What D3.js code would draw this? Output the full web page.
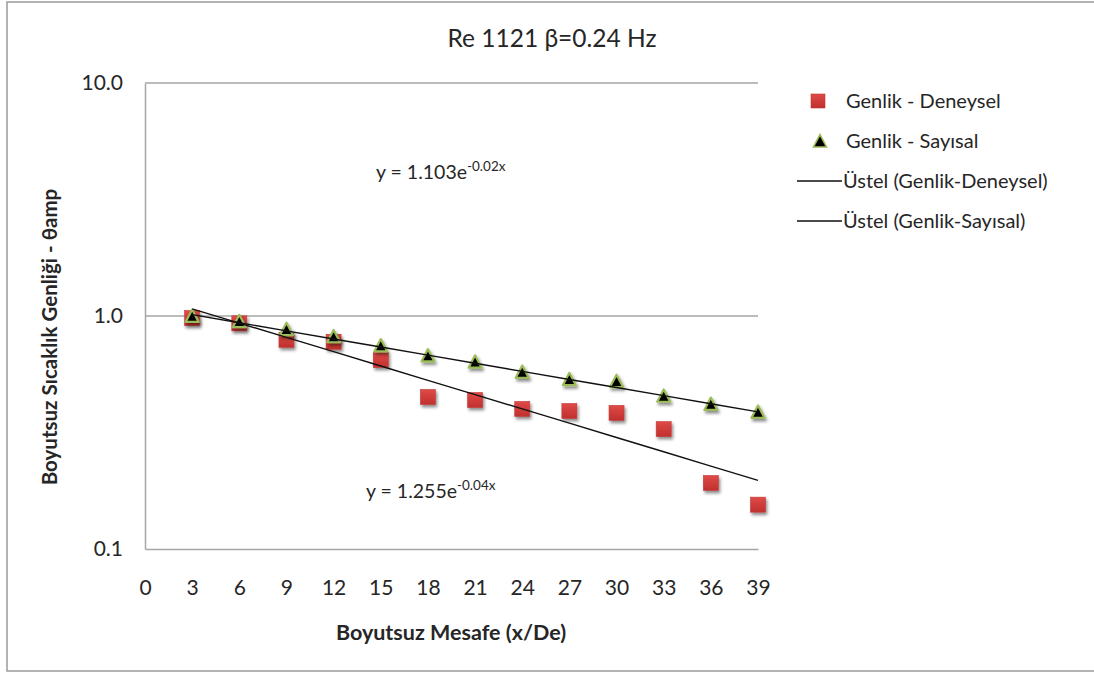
<!DOCTYPE html>
<html><head><meta charset="utf-8">
<script src="https://cdn.jsdelivr.net/npm/d3@7"></script>
<style>
html,body{margin:0;padding:0;background:#fff;}
svg{display:block;font-family:Lato,"Open Sans",sans-serif;}
</style></head>
<body>
<script>
// ---- data ----
const xValues = [3,6,9,12,15,18,21,24,27,30,33,36,39];
const deneysel = [0.98,0.93,0.79,0.775,0.647,0.449,0.436,0.399,0.391,0.384,0.327,0.192,0.155];
const sayisal  = [0.99,0.94,0.87,0.81,0.74,0.67,0.63,0.57,0.53,0.52,0.45,0.415,0.384];
const xTicks = [0,3,6,9,12,15,18,21,24,27,30,33,36,39];
const yTicks = [0.1,1,10];
const seriesNames = ["Genlik - Deneysel","Genlik - Sayısal","Üstel (Genlik-Deneysel)","Üstel (Genlik-Sayısal)"];
const eqSayisal = ["y = 1.103e","-0.02x"];
const eqDeneysel = ["y = 1.255e","-0.04x"];
const title = "Re 1121 β=0.24 Hz";
const xTitle = "Boyutsuz Mesafe (x/De)";
const yTitle = "Boyutsuz Sıcaklık Genliği - θamp";

const W=1094,H=675;
const svg=d3.select("body").append("svg").attr("width",W).attr("height",H);
const defs=svg.append("defs");
const f=defs.append("filter").attr("id","sh").attr("x","-50%").attr("y","-50%").attr("width","200%").attr("height","200%");
f.append("feDropShadow").attr("dx",1.5).attr("dy",2.5).attr("stdDeviation",1.6).attr("flood-color","#000").attr("flood-opacity",0.45);
const g=defs.append("linearGradient").attr("id","red").attr("x1",0).attr("y1",0).attr("x2",0).attr("y2",1);
g.append("stop").attr("offset","0%").attr("stop-color","#df4a47");
g.append("stop").attr("offset","100%").attr("stop-color","#c0302e");

// border
svg.append("rect").attr("x",7).attr("y",2).attr("width",W).attr("height",669)
  .attr("fill","#fff").attr("stroke","#9a9a9a").attr("stroke-width",1.5);

const x=d3.scaleLinear().domain([0,39]).range([145,758]);
const y=d3.scaleLog().domain([0.1,10]).range([549,83]);
const txt="#262626", grid="#a6a6a6";

// gridlines
svg.append("g").selectAll("line").data(yTicks.filter(v=>v>0.1)).join("line")
  .attr("x1",x(0)).attr("x2",x(39)).attr("y1",d=>y(d)).attr("y2",d=>y(d))
  .attr("stroke",grid).attr("stroke-width",1.5);

// axes
const ax=svg.append("g").attr("transform",`translate(${x(0)},0)`)
  .call(d3.axisLeft(y).tickValues(yTicks).tickFormat(d3.format(".1f")).tickSize(0).tickPadding(22));
ax.select(".domain").attr("stroke",grid).attr("stroke-width",1.5);
ax.selectAll("text").attr("font-size",21).attr("fill",txt).attr("font-family","Lato");

const bx=svg.append("g").attr("transform",`translate(0,${y(0.1)})`)
  .call(d3.axisBottom(x).tickValues(xTicks).tickFormat(d3.format("d")).tickSize(0).tickPadding(31));
bx.select(".domain").attr("stroke",grid).attr("stroke-width",1.5);
bx.selectAll("text").attr("font-size",21).attr("fill",txt).attr("font-family","Lato");

// exponential fits (least squares on ln y)
function expFit(xs,ys){
  const ly=ys.map(Math.log);
  const mx=d3.mean(xs), my=d3.mean(ly);
  let sxy=0,sxx=0; xs.forEach((v,i)=>{sxy+=(v-mx)*(ly[i]-my); sxx+=(v-mx)*(v-mx);});
  const b=sxy/sxx, a=Math.exp(my-b*mx);
  return v=>a*Math.exp(b*v);
}
const fD=expFit(xValues,deneysel), fS=expFit(xValues,sayisal);
const line=fn=>d3.line().x(d=>x(d)).y(d=>y(fn(d)));

// markers: squares
const sq=15;
svg.append("g").selectAll("rect").data(xValues.map((v,i)=>[v,deneysel[i]])).join("rect")
  .attr("x",d=>x(d[0])-sq/2).attr("y",d=>y(d[1])-sq/2).attr("width",sq).attr("height",sq)
  .attr("fill","url(#red)").attr("stroke","#c23a37").attr("stroke-width",0.6).attr("filter","url(#sh)");

// triangles
const tri=(cx,cy,s)=>{const h=s*0.95;return `M${cx},${cy-h*0.6}L${cx+s/2},${cy+h*0.4}L${cx-s/2},${cy+h*0.4}Z`;};
svg.append("g").selectAll("path").data(xValues.map((v,i)=>[v,sayisal[i]])).join("path")
  .attr("d",d=>tri(x(d[0]),y(d[1]),13))
  .attr("fill","#000").attr("stroke","#9bbb59").attr("stroke-width",2.2).attr("stroke-linejoin","round")
  .attr("filter","url(#sh)");

// trendlines
svg.append("path").attr("d",line(fD)(xValues)).attr("fill","none").attr("stroke","#111").attr("stroke-width",1.4);
svg.append("path").attr("d",line(fS)(xValues)).attr("fill","none").attr("stroke","#111").attr("stroke-width",1.4);

// equations
function eq(pos,parts){
  const t=svg.append("text").attr("x",pos[0]).attr("y",pos[1]).attr("fill",txt).attr("font-size",19.5).attr("font-family","Lato");
  t.append("tspan").text(parts[0]);
  t.append("tspan").attr("dy",-8).attr("font-size",13.5).text(parts[1]);
}
eq([376,179],eqSayisal);
eq([366,498],eqDeneysel);

// title
svg.append("text").attr("x",552).attr("y",47).attr("text-anchor","middle").attr("font-size",24.5)
  .attr("fill",txt).text(title);
// axis titles
svg.append("text").attr("x",451).attr("y",640).attr("text-anchor","middle").attr("font-size",21.5)
  .attr("font-weight","bold").attr("fill",txt).text(xTitle);
svg.append("text").attr("transform","translate(57,337) rotate(-90)").attr("text-anchor","middle").attr("font-size",20.5)
  .attr("font-weight","bold").attr("fill",txt).text(yTitle);

// legend
const ly=[101,141,181,221];
const lg=svg.append("g");
lg.append("rect").attr("x",818-7).attr("y",ly[0]-7).attr("width",14).attr("height",14).attr("fill","url(#red)").attr("stroke","#c23a37").attr("stroke-width",0.6);
lg.append("path").attr("d",tri(820,ly[1]+1,13)).attr("fill","#000").attr("stroke","#9bbb59").attr("stroke-width",1.6);
[2,3].forEach(i=>lg.append("line").attr("x1",797).attr("x2",842).attr("y1",ly[i]).attr("y2",ly[i]).attr("stroke","#111").attr("stroke-width",1.4));
lg.selectAll("text").data(seriesNames).join("text")
  .attr("x",(d,i)=>i<2?846:843).attr("y",(d,i)=>ly[i]).attr("dy","0.35em").attr("font-size",20).attr("fill",txt).text(d=>d);
</script>
</body></html>
